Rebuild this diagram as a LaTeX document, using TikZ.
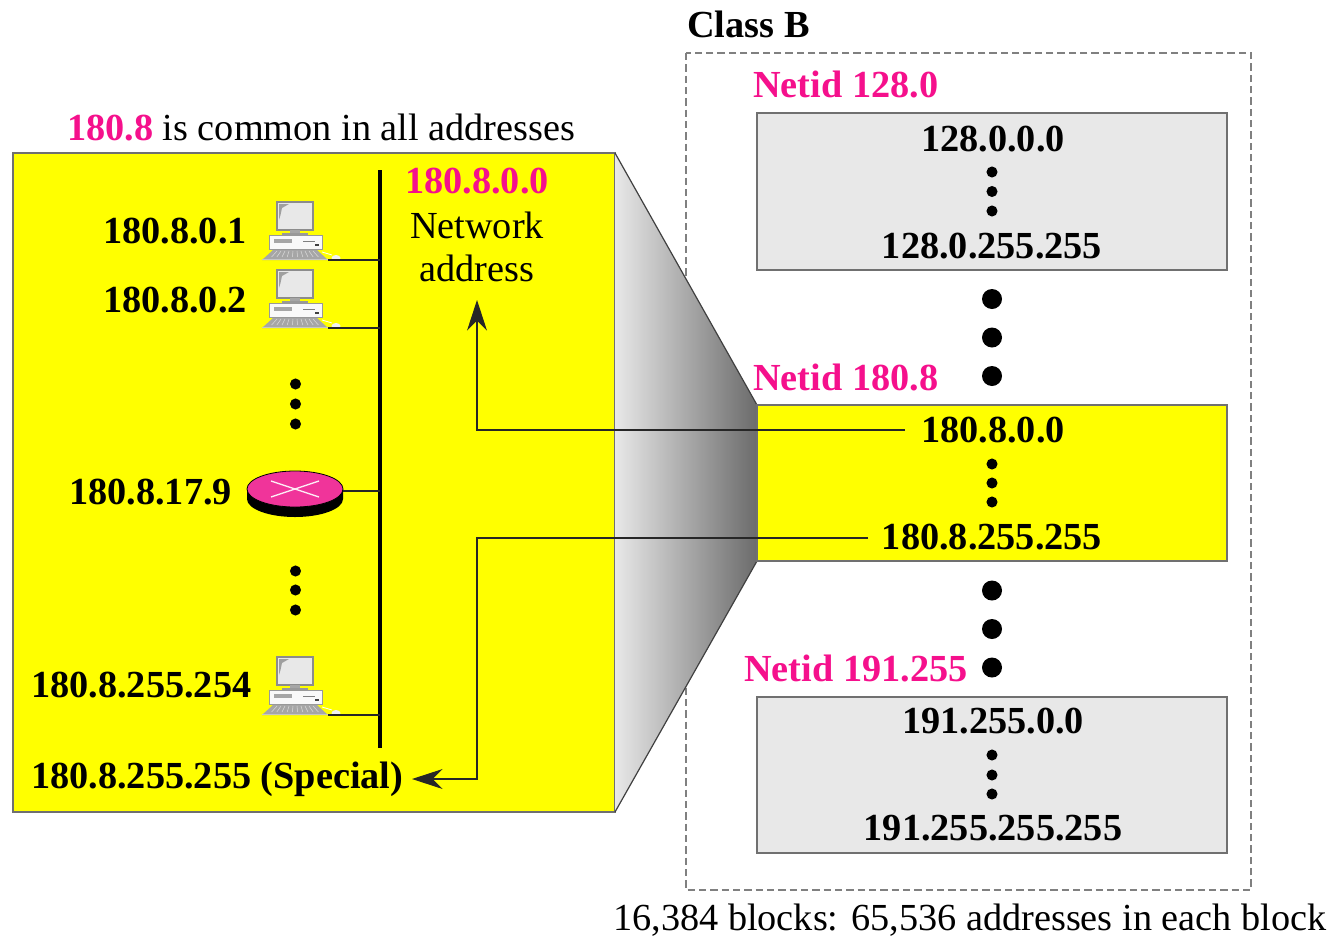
\documentclass[tikz,border=0pt]{standalone}
\usepackage{fontspec}
\setmainfont{Liberation Serif}
\usetikzlibrary{arrows.meta}
\definecolor{hot}{HTML}{F5108C}
\definecolor{routerpink}{HTML}{F0349A}
\definecolor{boxgray}{HTML}{E8E8E8}
\definecolor{edgegray}{HTML}{707070}
\definecolor{pureyellow}{HTML}{FFFF00}
\tikzset{
  x=0.75pt,y=-0.75pt,
  lbl/.style={inner sep=0pt,font=\fontsize{28.7}{30}\selectfont\bfseries},
  plain/.style={inner sep=0pt,font=\fontsize{28.7}{33}\selectfont},
  hotlbl/.style={lbl,text=hot},
  panel/.style={draw=edgegray,line width=0.8pt},
  wire/.style={draw=black!85,line width=0.8pt},
  bigdot/.style={circle,fill=black,inner sep=0pt,minimum size=15pt},
  smalldot/.style={circle,fill=black,inner sep=0pt,minimum size=8.3pt},
  tip/.style={-{Stealth[length=23pt,width=15pt,inset=7.5pt]}},
  computer/.pic={
    \filldraw[fill=boxgray,draw=gray!90,line width=1.2pt] (-18,-58) rectangle (18,-30);
    \fill[gray!75] (-16,-40) -- (-16,-56) -- (-6,-56) -- (-13,-52) -- (-14.5,-45) -- cycle;
    \fill[gray!70] (-5,-30) rectangle (5,-26);
    \fill[gray!80] (-13,-27) rectangle (13,-25);
    \filldraw[fill=white!95!gray,draw=gray!80,line width=0.7pt] (-26,-25) rectangle (27,-11);
    \fill[gray!70] (-21,-21) rectangle (-3,-17);
    \draw[gray,line width=0.6pt] (8,-19) -- (20,-19);
    \fill[black!75] (20,-16) rectangle (24,-14);
    \fill[gray!70] (-22,-10) -- (22,-10) -- (33,0) -- (-33,0) -- cycle;
    \foreach \k in {-18,-14,...,18}{\draw[gray!30,line width=0.4pt] (\k,-9) -- (\k*1.3,-3);}
    \fill[gray!45] (-33,0) rectangle (33,-1.5);
    \draw[white,line width=0.6pt] (27,-8) -- (37,-5);
    \fill[white!90!gray] (41,-2) ellipse (4.5 and 3);
    \coordinate (-port) at (33,0);
  },
  routerpic/.pic={
    \fill[black] (-48,0) -- (-48,10) arc[start angle=180,end angle=0,x radius=48,y radius=18] -- (48,0) -- cycle;
    \filldraw[fill=routerpink,draw=black,line width=0.6pt] (0,0) ellipse (48 and 18);
    \draw[white!90!routerpink,line width=1pt] (-24,-8) -- (24,8) (-24,8) -- (24,-8);
    \coordinate (-port) at (48,2);
  }
}
\begin{document}
\begin{tikzpicture}
\useasboundingbox (0,0) rectangle (1333,939);

% class B frame
\draw[gray,line width=1.5pt,dash pattern=on 5.5pt off 3pt] (686,53) rectangle (1251,890);

% left yellow panel
\path[panel,fill=pureyellow] (13,153) rectangle (615,812);
\coordinate (ltop) at (615,153);
\coordinate (lbot) at (615,812);
\coordinate (rtop) at (757,405);
\coordinate (rbot) at (757,561);

% funnel
\shade[left color=boxgray,right color=black!58] (ltop) -- (rtop) -- (rbot) -- (lbot) -- cycle;
\draw[black!75,line width=0.9pt] (ltop) -- (rtop) (lbot) -- (rbot);

% right blocks
\path[panel,fill=boxgray] (757,113) rectangle (1227,270);
\path[panel,fill=pureyellow] (757,405) rectangle (1227,561);
\path[panel,fill=boxgray] (757,697) rectangle (1227,853);

% titles
\node[lbl,anchor=west] (classb) at (687,24) {Class B};
\node[hotlbl,anchor=west] (n128) at (753,84) {Netid 128.0};
\node[hotlbl,anchor=west] (n180) at (753,377) {Netid 180.8};
\node[hotlbl,anchor=west] (n191) at (744,668) {Netid 191.255};

% block addresses
\node[lbl] (a1) at (993,139) {128.0.0.0};
\node[lbl] (a2) at (992,246) {128.0.255.255};
\node[lbl] (b1) at (993,430) {180.8.0.0};
\node[lbl] (b2) at (992,537) {180.8.255.255};
\node[lbl] (c1) at (993,721) {191.255.0.0};
\node[lbl] (c2) at (993,828) {191.255.255.255};

\foreach \n/\y in {d1/172,d2/191.5,d3/211,d4/464,d5/483,d6/502,d7/755,d8/775,d9/794}
  \node[smalldot] (\n) at (992,\y) {};
\foreach \n/\y in {e1/299,e2/337.5,e3/376,e4/590.5,e5/629,e6/667.5}
  \node[bigdot] (\n) at (992,\y) {};

% left panel texts
\node[plain,anchor=west] (common) at (67,127) {\textbf{\textcolor{hot}{180.8}} is common in all addresses};
\node[hotlbl] (net) at (477,181) {180.8.0.0};
\node[plain] (netw) at (477,225) {Network};
\node[plain] (neta) at (477,268) {address};

\node[lbl,anchor=west] (h1) at (103,231) {180.8.0.1};
\node[lbl,anchor=west] (h2) at (103,300) {180.8.0.2};
\node[lbl,anchor=west] (h3) at (69,492) {180.8.17.9};
\node[lbl,anchor=west] (h4) at (31,685) {180.8.255.254};
\node[lbl,anchor=west] (special) at (31,779) {180.8.255.255 (Special)};

\foreach \n/\y in {f1/384,f2/404,f3/424,f4/571,f5/590,f6/610}
  \node[smalldot] (\n) at (295.5,\y) {};

% bus
\coordinate (busT) at (380,170);
\coordinate (busB) at (380,748);
\draw[black,line width=3pt] (busT) -- (busB);

\pic (pc1) at (295,260) {computer};
\pic (pc2) at (295,328) {computer};
\pic (pc3) at (295,715) {computer};
\pic (rt) at (295,489) {routerpic};

\draw[wire] (pc1-port) -- (pc1-port -| busT);
\draw[wire] (pc2-port) -- (pc2-port -| busT);
\draw[wire] (pc3-port) -- (pc3-port -| busT);
\draw[wire] (rt-port) -- (rt-port -| busT);

% connectors
\coordinate (w1) at (905,430);
\coordinate (w1t) at (477,300);
\coordinate (w2) at (868,538);
\coordinate (w2t) at (412,779);
\draw[wire,tip] (w1) -- (w1 -| w1t) -- (w1t);
\draw[wire,tip] (w2) -- (w2 -| w1t) |- (w2t);

\node[plain,anchor=west] (foot) at (613,920) {16,384 blocks: 65,536 addresses in each block};
\end{tikzpicture}
\end{document}
